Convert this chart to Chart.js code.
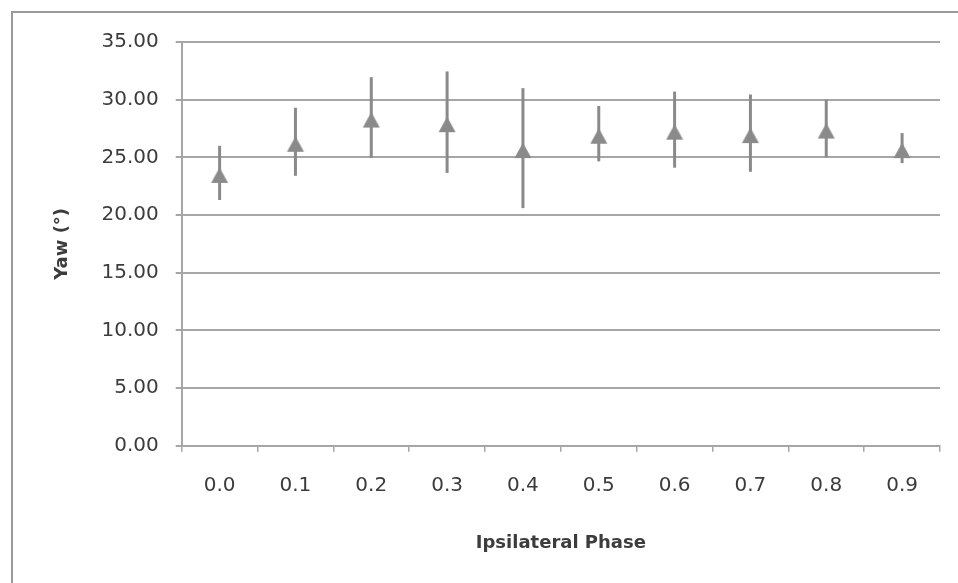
<!DOCTYPE html>
<html>
<head>
<meta charset="utf-8">
<script src="https://cdn.jsdelivr.net/npm/chart.js@4/dist/chart.umd.min.js"></script>
<style>
  html, body { margin: 0; padding: 0; background: #fff; overflow: hidden; }
  #wrap { position: relative; width: 958px; height: 583px; overflow: hidden; }
  #frame { position: absolute; left: 11px; top: 11px; right: 0; bottom: 0;
           border-left: 2px solid #9a9a9a; border-top: 2px solid #9a9a9a; pointer-events: none; }
  canvas { position: absolute; left: 0; top: 0; }
</style>
</head>
<body>
<div id="wrap">
  <canvas id="c" width="958" height="583"></canvas>
  <div id="frame"></div>
</div>
<script>
// ---- data ----
const phases = ['0.0', '0.1', '0.2', '0.3', '0.4', '0.5', '0.6', '0.7', '0.8', '0.9'];
const yawMean = [23.65, 26.35, 28.45, 28.05, 25.8, 27.05, 27.4, 27.1, 27.5, 25.8];
const yawErr  = [2.35, 2.95, 3.5, 4.4, 5.2, 2.4, 3.3, 3.35, 2.5, 1.3];
const yTicks  = [0, 5, 10, 15, 20, 25, 30, 35];

const GREY = '#8a8a8a';
const TEXT = '#3c3c3c';

// triangle marker image (bounding box sits slightly below the data point, as in the reference)
function makeTriangle() {
  const c = document.createElement('canvas');
  c.width = 20; c.height = 24;
  const g = c.getContext('2d');
  g.fillStyle = GREY;
  g.beginPath();
  g.moveTo(10, 6.5);
  g.lineTo(18.5, 22);
  g.lineTo(1.5, 22);
  g.closePath();
  g.fill();
  return c;
}
const tri = makeTriangle();

const errorBars = {
  id: 'errorBars',
  beforeDatasetsDraw(chart) {
    const { ctx, scales: { x, y } } = chart;
    ctx.save();
    ctx.strokeStyle = GREY;
    ctx.lineWidth = 3;
    yawMean.forEach((m, i) => {
      const px = x.getPixelForValue(i);
      ctx.beginPath();
      ctx.moveTo(px, y.getPixelForValue(m + yawErr[i]));
      ctx.lineTo(px, y.getPixelForValue(m - yawErr[i]));
      ctx.stroke();
    });
    ctx.restore();
  }
};

new Chart(document.getElementById('c'), {
  type: 'line',
  data: {
    labels: phases,
    datasets: [{
      data: yawMean,
      showLine: false,
      pointStyle: tri,
      pointRadius: 10,
      pointHoverRadius: 10,
      backgroundColor: GREY,
      borderColor: GREY
    }]
  },
  options: {
    responsive: false,
    animation: false,
    events: [],
    layout: { padding: { left: 0, right: 18, top: 42, bottom: 0 } },
    plugins: { legend: { display: false }, tooltip: { enabled: false } },
    scales: {
      x: {
        type: 'category',
        offset: true,
        afterFit(s) { s.height = 137.3; },
        grid: { offset: true, drawOnChartArea: false, drawTicks: true, tickLength: 6,
                color: '#a6a6a6', lineWidth: 1.5 },
        border: { color: '#a6a6a6', width: 2 },
        ticks: { color: TEXT, font: { family: 'DejaVu Sans', size: 20 }, padding: 22,
                 maxRotation: 0, autoSkip: false },
        title: { display: true, text: 'Ipsilateral Phase', color: TEXT,
                 font: { family: 'DejaVu Sans', size: 18, weight: 'bold' },
                 padding: { top: 4, bottom: 29 } }
      },
      y: {
        min: 0, max: 35,
        afterFit(s) { s.width = 181.7; },
        afterBuildTicks(s) { s.ticks = yTicks.map(v => ({ value: v })); },
        grid: { color: '#a6a6a6', lineWidth: 2, tickLength: 6 },
        border: { color: '#a6a6a6', width: 2 },
        ticks: { color: TEXT, font: { family: 'DejaVu Sans', size: 20 }, padding: 17,
                 callback: v => Number(v).toFixed(2) },
        title: { display: true, text: 'Yaw (°)', color: TEXT,
                 font: { family: 'DejaVu Sans', size: 18, weight: 'bold' },
                 padding: { top: 52, bottom: 4 } }
      }
    }
  },
  plugins: [errorBars]
});
</script>
</body>
</html>
